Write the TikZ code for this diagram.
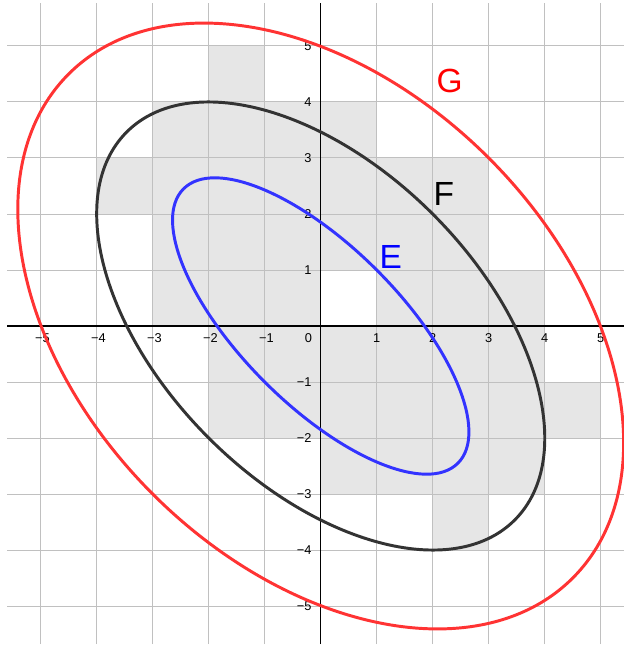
\documentclass[tikz,border=0pt]{standalone}
\usepackage{fontspec}
\setmainfont{Liberation Sans}

\begin{document}
\begin{tikzpicture}[scale=1,
    tickLabel/.style={font=\fontsize{6.5}{7}\selectfont, inner sep=0pt},
    curveLabel/.style={font=\fontsize{17}{20}\selectfont, inner sep=0pt},
    conic/.style={line width=1.5pt}]
    % Define colours
    \definecolor{gridColour}{HTML}{C0C0C0}
    \definecolor{cellColour}{HTML}{E6E6E6}
    \definecolor{colourE}{HTML}{3333FF}
    \definecolor{colourF}{HTML}{333333}
    \definecolor{colourG}{HTML}{FF3333}

    % Fix picture size
    \useasboundingbox (-5.727,-5.714) rectangle (5.398,5.821);
    \fill[white] (-5.727,-5.714) rectangle (5.398,5.821);

    % Shade cells (left end / right end / bottom)
    \foreach \xa/\xb/\y in {-2/-1/4, -3/1/3, -4/3/2, -3/3/1, -3/0/0, 1/4/0,
                            -2/4/-1, -2/5/-2, 0/4/-3, 2/3/-4}
        \fill[cellColour] (\xa,\y) rectangle (\xb,\y+1);

    % Draw grid
    \draw[step=1cm, gridColour, line width=0.5pt] (-5.6,-5.68) grid (5.45,5.77);

    % Draw axes
    \draw[line width=0.65pt] (-5.6,0) -- (5.45,0);
    \draw[line width=0.65pt] (0,-5.68) -- (0,5.77);

    % Label x-axis and y-axis
    \foreach \x in {1,...,5} {
        \node[tickLabel] (xp\x) at (\x,-0.22) {\x};
        \node[tickLabel] (xm\x) at (-\x+0.03,-0.22) {−\x};
    }
    \node[tickLabel] (origin) at (-0.22,-0.22) {0};
    \foreach \y in {1,...,5} {
        \node[tickLabel, anchor=east] (yp\y) at (-0.16,\y) {\y};
        \node[tickLabel, anchor=east] (ym\y) at (-0.16,-\y) {−\y};
    }

    % Draw the ellipses
    \draw[conic, colourG, rotate=-45] (0,0) ellipse (6.364 and 4.243);
    \draw[conic, colourF, rotate=-45] (0,0) ellipse (4.899 and 2.828);
    \draw[conic, colourE, rotate=-45] (0,0) ellipse (3.464 and 1.414);

    % Label the ellipses
    \node[curveLabel, text=red] (labelG) at (2.30,4.37) {G};
    \node[curveLabel, text=black] (labelF) at (2.20,2.35) {F};
    \node[curveLabel, text=blue] (labelE) at (1.25,1.24) {E};

\end{tikzpicture}
\end{document}
